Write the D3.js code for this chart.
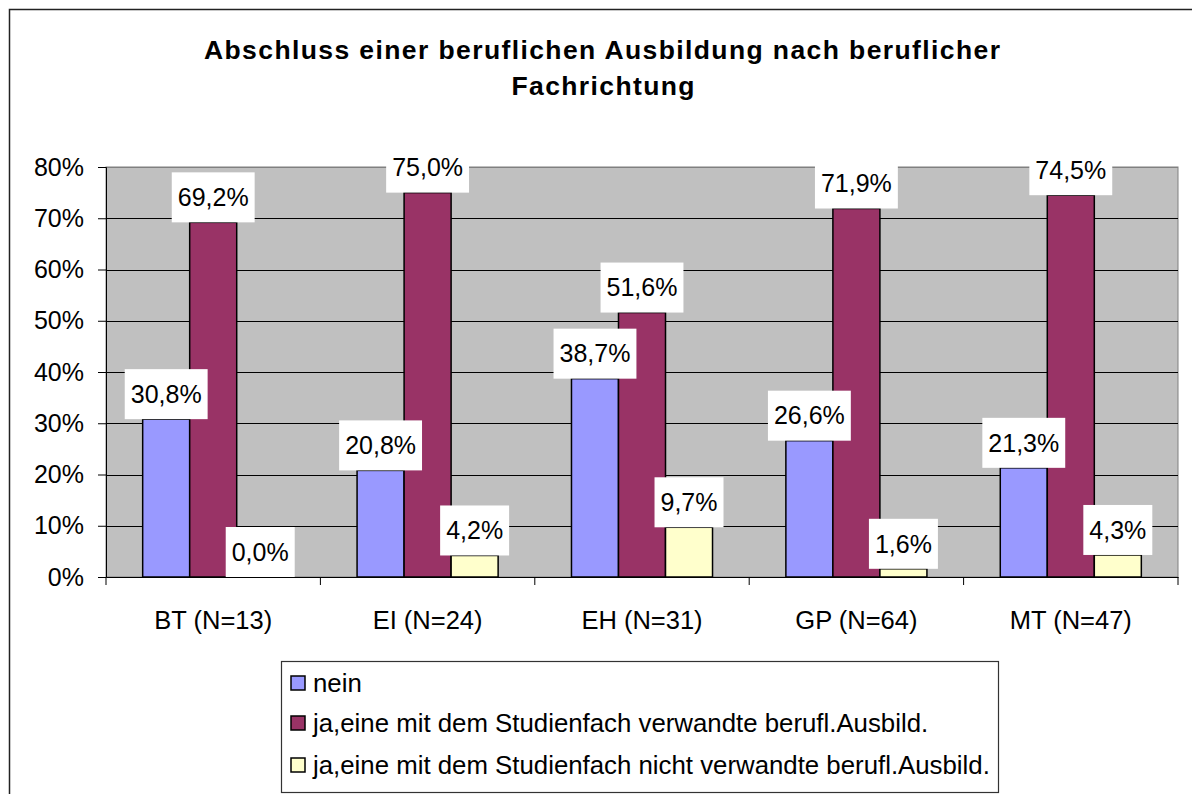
<!DOCTYPE html>
<html>
<head>
<meta charset="utf-8">
<script src="https://cdn.jsdelivr.net/npm/d3@7"></script>
<style>
  html, body { margin: 0; padding: 0; background: #fff; }
  svg { display: block; font-family: Arial, "Liberation Sans", sans-serif; }
</style>
</head>
<body>
<svg id="chart" width="1192" height="794"></svg>
<script>
const titleLines = ["Abschluss einer beruflichen Ausbildung nach beruflicher", "Fachrichtung"];
const categories = ["BT (N=13)", "EI (N=24)", "EH (N=31)", "GP (N=64)", "MT (N=47)"];
const seriesNames = [
  "nein",
  "ja,eine mit dem Studienfach verwandte berufl.Ausbild.",
  "ja,eine mit dem Studienfach nicht verwandte berufl.Ausbild."
];
const neinValues = [30.8, 20.8, 38.7, 26.6, 21.3];
const verwandtValues = [69.2, 75.0, 51.6, 71.9, 74.5];
const nichtVerwandtValues = [0.0, 4.2, 9.7, 1.6, 4.3];
const seriesColors = ["#9999FF", "#993366", "#FFFFCC"];
const yTicks = [0, 10, 20, 30, 40, 50, 60, 70, 80];

const seriesValues = [neinValues, verwandtValues, nichtVerwandtValues];
const svg = d3.select("#chart");

// outer frame
svg.append("rect").attr("x", 9.5).attr("y", 9.5).attr("width", 1200).attr("height", 800)
  .attr("fill", "#fff").attr("stroke", "#222").attr("stroke-width", 1.5);

// title
const title = svg.append("g");
title.append("text").attr("x", 602).attr("y", 59).attr("text-anchor", "middle")
  .attr("font-size", 26.5).attr("font-weight", "bold")
  .attr("textLength", 796).attr("lengthAdjust", "spacing")
  .text(titleLines[0]);
title.append("text").attr("x", 603).attr("y", 95).attr("text-anchor", "middle")
  .attr("font-size", 26.5).attr("font-weight", "bold")
  .attr("textLength", 183).attr("lengthAdjust", "spacing")
  .text(titleLines[1]);

const plot = {left: 106, right: 1178, top: 167, bottom: 577};
const x = d3.scaleBand().domain(categories).range([plot.left, plot.right]).padding(0);
const xInner = d3.scaleBand().domain(d3.range(seriesNames.length)).range([0, x.bandwidth()]).paddingInner(0).paddingOuter(0.78);
const y = d3.scaleLinear().domain([0, 80]).range([plot.bottom, plot.top]);

// plot bg
svg.append("rect").attr("x", plot.left).attr("y", plot.top)
  .attr("width", plot.right - plot.left).attr("height", plot.bottom - plot.top)
  .attr("fill", "#C0C0C0").attr("stroke", "#808080").attr("stroke-width", 1);

// gridlines
svg.append("g").selectAll("line").data(yTicks.slice(1)).join("line")
  .attr("x1", plot.left).attr("x2", plot.right)
  .attr("y1", d => Math.round(y(d)) + 0.5).attr("y2", d => Math.round(y(d)) + 0.5)
  .attr("stroke", d => d === 80 ? "#808080" : "#000").attr("stroke-width", 1);

// y axis
const yAxis = d3.axisLeft(y).tickValues(yTicks).tickFormat(d => d + "%").tickSize(8).tickPadding(14);
const yg = svg.append("g").attr("transform", `translate(${plot.left},0)`).call(yAxis);
yg.select(".domain").attr("stroke", "#000");
yg.selectAll(".tick line").attr("stroke", "#000");
yg.selectAll("text").attr("font-size", 25).attr("fill", "#000").attr("font-family", "Arial, 'Liberation Sans', sans-serif");

// x axis
const xAxis = d3.axisBottom(x).tickSize(0).tickPadding(34);
const xg = svg.append("g").attr("transform", `translate(0,${plot.bottom})`).call(xAxis);
xg.select(".domain").attr("stroke", "#000");
xg.selectAll("text").attr("font-size", 25.5).attr("fill", "#000").attr("font-family", "Arial, 'Liberation Sans', sans-serif");
// category boundary ticks
svg.append("g").selectAll("line").data(categories.map((c, i) => i).concat([categories.length])).join("line")
  .attr("x1", i => plot.left + i * x.bandwidth()).attr("x2", i => plot.left + i * x.bandwidth())
  .attr("y1", plot.bottom).attr("y2", plot.bottom + 8).attr("stroke", "#000");

// bars
const barData = [];
categories.forEach((c, ci) => seriesValues.forEach((vals, si) => barData.push({c, si, v: vals[ci]})));
svg.append("g").selectAll("rect").data(barData).join("rect")
  .attr("x", d => x(d.c) + xInner(d.si))
  .attr("y", d => y(d.v))
  .attr("width", xInner.bandwidth())
  .attr("height", d => y(0) - y(d.v))
  .attr("fill", d => seriesColors[d.si])
  .attr("stroke", "#000").attr("stroke-width", 1.5);

// labels
const fmt = v => v.toFixed(1).replace(".", ",") + "%";
const lg = svg.append("g");
barData.forEach(d => {
  const cx = x(d.c) + xInner(d.si) + xInner.bandwidth() / 2;
  const top = y(d.v);
  const t = lg.append("text").attr("x", cx).attr("y", top - 25).attr("dy", "0.35em")
    .attr("text-anchor", "middle").attr("font-size", 25).text(fmt(d.v));
  const w = t.node().getComputedTextLength() + 12;
  lg.insert("rect", () => t.node()).attr("x", cx - w / 2).attr("y", top - 50)
    .attr("width", w).attr("height", 50).attr("fill", "#fff");
});

// legend
const legend = svg.append("g");
legend.append("rect").attr("x", 281.5).attr("y", 661.5).attr("width", 717).attr("height", 131)
  .attr("fill", "#fff").attr("stroke", "#333").attr("stroke-width", 1.2);
const rowY = [683, 723, 765];
seriesNames.forEach((n, i) => {
  legend.append("rect").attr("x", 291).attr("y", rowY[i] - 7).attr("width", 14).attr("height", 14)
    .attr("fill", seriesColors[i]).attr("stroke", "#000").attr("stroke-width", 1.5);
  legend.append("text").attr("x", 313).attr("y", rowY[i]).attr("dy", "0.35em")
    .attr("font-size", 25.8).text(n);
});
</script>
</body>
</html>
